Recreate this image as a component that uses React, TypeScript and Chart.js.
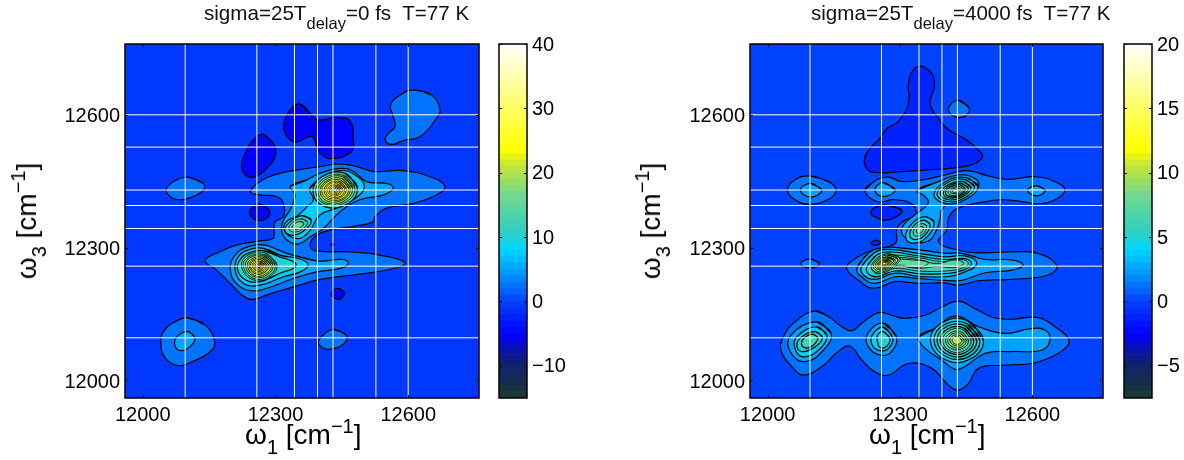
import React, { useEffect, useRef } from "react";
import { Chart, registerables } from "chart.js";

Chart.register(...registerables);

type Contour = [number, number[]];

const axisMin = 11960;
const axisMax = 12760;
const axisTicks = [12000, 12300, 12600];
const excitonEnergies = [12096, 12258, 12343, 12395, 12430, 12527, 12600];

const leftBarTicks = [-10, 0, 10, 20, 30, 40];
const rightBarTicks = [-5, 0, 5, 10, 15, 20];
const leftBarEdges = [-15, -14, -13, -12, -11, -10, -9, -8, -7, -6, -5, -4, -3, -2, -1, 0, 1, 2, 3, 4, 5, 6, 7, 8, 9, 10, 11, 12, 13, 14, 15, 16, 17, 18, 19, 20, 21, 22, 23, 24, 25, 26, 27, 28, 29, 30, 31, 32, 33, 34, 35, 36, 37, 38, 39, 40];
const rightBarEdges = [-7.5, -7, -6.5, -6, -5.5, -5, -4.5, -4, -3.5, -3, -2.5, -2, -1.5, -1, -0.5, 0, 0.5, 1, 1.5, 2, 2.5, 3, 3.5, 4, 4.5, 5, 5.5, 6, 6.5, 7, 7.5, 8, 8.5, 9, 9.5, 10, 10.5, 11, 11.5, 12, 12.5, 13, 13.5, 14, 14.5, 15, 15.5, 16, 16.5, 17, 17.5, 18, 18.5, 19, 19.5, 20];

const colorStops: [number, string][] = [
  [0, "#1a3a30"], [0.1, "#102070"], [0.18, "#0000ff"], [0.27, "#0040ff"], [0.36, "#00a0ff"],
  [0.42, "#00d8ff"], [0.47, "#30d0c0"], [0.57, "#70d890"], [0.66, "#c8e830"], [0.7, "#ffff00"], [1, "#ffffff"],
];

const leftBackground: Contour = [-0.8, [11960, 11960, 12760, 11960, 12760, 12760, 11960, 12760]];
const rightBackground: Contour = [0, [11960, 11960, 12760, 11960, 12760, 12760, 11960, 12760]];

const leftOuter: Contour[] = [
  [-5, [12356, 12624, 12382, 12600, 12397, 12588, 12438, 12594, 12469, 12585, 12476, 12543, 12472, 12517, 12431, 12501, 12405, 12509, 12393, 12528, 12382, 12551, 12344, 12539, 12322, 12558, 12320, 12585, 12337, 12615]],
  [-5, [12273, 12556, 12295, 12536, 12301, 12513, 12288, 12487, 12250, 12459, 12228, 12468, 12224, 12490, 12239, 12528, 12258, 12551]],
  [-5, [12265, 12398, 12286, 12385, 12280, 12366, 12258, 12362, 12243, 12374, 12246, 12389]],
  [-5, [12442, 12208, 12456, 12198, 12446, 12184, 12431, 12187, 12427, 12198]],
  [2.5, [12615, 12656, 12653, 12645, 12672, 12612, 12661, 12588, 12627, 12551, 12589, 12542, 12563, 12533, 12548, 12543, 12555, 12558, 12570, 12573, 12565, 12600, 12560, 12622, 12582, 12645]],
  [2.5, [12103, 12459, 12137, 12445, 12137, 12430, 12111, 12414, 12081, 12408, 12058, 12419, 12054, 12434, 12073, 12451]],
  [2.5, [12103, 12141, 12141, 12125, 12162, 12091, 12156, 12068, 12107, 12040, 12077, 12034, 12051, 12050, 12041, 12083, 12047, 12110, 12073, 12132]],
  [5, [12103, 12110, 12118, 12097, 12107, 12076, 12085, 12067, 12072, 12082, 12081, 12102]],
  [2.5, [12431, 12115, 12460, 12102, 12454, 12082, 12420, 12070, 12399, 12080, 12401, 12095]],
];

const leftRidge: Contour[] = [
  [2.5, [12243, 12426, 12258, 12445, 12303, 12466, 12348, 12475, 12401, 12483, 12446, 12489, 12484, 12483, 12521, 12472, 12589, 12474, 12649, 12460, 12683, 12439, 12668, 12421, 12612, 12400, 12551, 12389, 12525, 12370, 12521, 12358, 12476, 12348, 12431, 12341, 12393, 12328, 12378, 12306, 12390, 12293, 12469, 12290, 12536, 12283, 12593, 12266, 12559, 12251, 12476, 12238, 12401, 12228, 12341, 12211, 12288, 12196, 12250, 12183, 12228, 12190, 12198, 12219, 12167, 12249, 12141, 12270, 12167, 12287, 12213, 12306, 12265, 12315, 12295, 12321, 12297, 12339, 12299, 12358, 12318, 12370, 12318, 12400, 12303, 12415, 12265, 12419]],
  [-5, [12429, 12310, 12433, 12307, 12429, 12304, 12425, 12307]],
  [5, [12333, 12438, 12371, 12453, 12401, 12468, 12446, 12479, 12476, 12472, 12506, 12449, 12555, 12444, 12566, 12434, 12544, 12419, 12491, 12408, 12446, 12381, 12408, 12343, 12378, 12324, 12352, 12308, 12326, 12317, 12314, 12339, 12318, 12362, 12333, 12385, 12344, 12415, 12341, 12426]],
  [7.5, [12378, 12434, 12408, 12460, 12446, 12474, 12480, 12464, 12501, 12438, 12480, 12411, 12438, 12389, 12401, 12374, 12378, 12339, 12356, 12321, 12329, 12328, 12319, 12347, 12329, 12362, 12348, 12370, 12371, 12392, 12386, 12408]],
  [5, [12326, 12287, 12393, 12270, 12454, 12273, 12465, 12264, 12446, 12253, 12393, 12245, 12341, 12230, 12280, 12208, 12250, 12202, 12216, 12215, 12198, 12249, 12209, 12283, 12239, 12302, 12273, 12306, 12303, 12296]],
  [7.5, [12273, 12298, 12310, 12283, 12359, 12273, 12374, 12260, 12356, 12245, 12318, 12234, 12265, 12215, 12228, 12219, 12209, 12249, 12216, 12279, 12243, 12296]],
  [10, [12273, 12293, 12310, 12279, 12344, 12266, 12344, 12255, 12310, 12242, 12265, 12223, 12231, 12228, 12214, 12253, 12224, 12278, 12246, 12290]],
];

const leftPeakA: Contour[] = [
  [12, [12485, 12436, 12457, 12468, 12405, 12460, 12385, 12424, 12413, 12392, 12465, 12400]],
  [15, [12479, 12435, 12454, 12463, 12409, 12456, 12391, 12425, 12416, 12397, 12461, 12404]],
  [18, [12474, 12435, 12452, 12460, 12412, 12453, 12396, 12425, 12418, 12400, 12458, 12407]],
  [20, [12469, 12434, 12450, 12456, 12415, 12450, 12401, 12426, 12420, 12404, 12455, 12410]],
  [22, [12465, 12434, 12448, 12452, 12417, 12448, 12405, 12426, 12422, 12408, 12453, 12412]],
  [23, [12460, 12433, 12446, 12449, 12420, 12445, 12410, 12427, 12424, 12411, 12450, 12415]],
  [24, [12456, 12433, 12444, 12446, 12422, 12443, 12414, 12427, 12426, 12414, 12448, 12417]],
  [25, [12452, 12432, 12442, 12443, 12425, 12440, 12418, 12428, 12428, 12417, 12445, 12420]],
  [27, [12448, 12432, 12441, 12440, 12427, 12438, 12422, 12428, 12429, 12420, 12443, 12422]],
  [30, [12445, 12431, 12439, 12438, 12429, 12436, 12425, 12429, 12431, 12422, 12441, 12424]],
  [34, [12442, 12431, 12438, 12435, 12431, 12434, 12428, 12429, 12432, 12425, 12439, 12426]],
  [38, [12439, 12430, 12437, 12433, 12433, 12432, 12431, 12430, 12433, 12427, 12437, 12428]],
];

const leftPeakB: Contour[] = [
  [12.5, [12303, 12262, 12276, 12288, 12235, 12281, 12224, 12254, 12253, 12226, 12289, 12235]],
  [15, [12299, 12261, 12274, 12284, 12238, 12278, 12228, 12255, 12254, 12229, 12286, 12237]],
  [17.5, [12294, 12261, 12273, 12281, 12241, 12276, 12233, 12255, 12255, 12233, 12283, 12240]],
  [20, [12290, 12260, 12271, 12278, 12244, 12273, 12237, 12256, 12256, 12236, 12280, 12242]],
  [22, [12285, 12260, 12270, 12275, 12247, 12271, 12241, 12256, 12257, 12240, 12277, 12245]],
  [23, [12281, 12260, 12268, 12272, 12249, 12269, 12244, 12256, 12258, 12243, 12275, 12247]],
  [24, [12278, 12259, 12267, 12269, 12252, 12267, 12248, 12257, 12259, 12246, 12272, 12249]],
  [26, [12274, 12259, 12266, 12267, 12254, 12265, 12251, 12257, 12259, 12248, 12270, 12251]],
  [28, [12271, 12259, 12265, 12265, 12256, 12263, 12254, 12257, 12260, 12251, 12268, 12253]],
  [32, [12268, 12259, 12264, 12263, 12258, 12261, 12256, 12257, 12261, 12253, 12266, 12254]],
  [38, [12266, 12258, 12263, 12261, 12259, 12260, 12258, 12258, 12261, 12255, 12265, 12256]],
  [40, [12264, 12258, 12263, 12260, 12260, 12259, 12260, 12258, 12261, 12256, 12264, 12257]],
];

const leftPeakC: Contour[] = [
  [10, [12381, 12362, 12361, 12372, 12333, 12358, 12321, 12338, 12341, 12328, 12369, 12342]],
  [12.5, [12372, 12358, 12358, 12365, 12338, 12356, 12330, 12342, 12344, 12335, 12364, 12344]],
  [15, [12364, 12355, 12355, 12359, 12343, 12353, 12338, 12345, 12347, 12341, 12359, 12347]],
];

const rightUpper: Contour[] = [
  [-1.25, [12349, 12710, 12372, 12694, 12378, 12664, 12368, 12626, 12387, 12592, 12410, 12566, 12451, 12543, 12478, 12520, 12487, 12505, 12470, 12490, 12432, 12481, 12387, 12477, 12311, 12472, 12251, 12469, 12228, 12475, 12219, 12498, 12232, 12524, 12255, 12547, 12270, 12569, 12296, 12585, 12319, 12626, 12319, 12671, 12330, 12701]],
  [1.25, [12432, 12633, 12457, 12615, 12447, 12597, 12421, 12597, 12410, 12615]],
  [-1.25, [12270, 12396, 12304, 12385, 12293, 12370, 12266, 12362, 12240, 12371, 12234, 12381, 12247, 12392]],
  [-1.25, [12245, 12317, 12256, 12312, 12245, 12305, 12234, 12309]],
  [1.25, [12096, 12462, 12138, 12449, 12155, 12430, 12138, 12409, 12096, 12398, 12062, 12408, 12045, 12430, 12062, 12453]],
  [2.5, [12098, 12445, 12123, 12430, 12098, 12414, 12074, 12430]],
];

const rightRidge: Contour[] = [
  [1.25, [12221, 12430, 12247, 12453, 12274, 12459, 12304, 12449, 12357, 12454, 12402, 12464, 12451, 12474, 12500, 12462, 12545, 12454, 12606, 12460, 12651, 12449, 12674, 12430, 12651, 12408, 12613, 12399, 12576, 12404, 12530, 12408, 12485, 12402, 12432, 12389, 12411, 12370, 12406, 12339, 12387, 12313, 12432, 12294, 12478, 12288, 12553, 12290, 12613, 12287, 12655, 12260, 12636, 12238, 12553, 12228, 12478, 12225, 12432, 12215, 12402, 12220, 12342, 12219, 12289, 12223, 12240, 12208, 12206, 12226, 12179, 12253, 12194, 12272, 12236, 12294, 12289, 12309, 12293, 12343, 12311, 12362, 12334, 12370, 12330, 12396, 12289, 12408, 12247, 12404]],
  [2.5, [12262, 12447, 12289, 12430, 12262, 12415, 12243, 12430]],
  [2.5, [12338, 12429, 12387, 12449, 12432, 12464, 12470, 12456, 12478, 12438, 12462, 12419, 12421, 12408, 12394, 12385, 12391, 12366, 12379, 12332, 12360, 12313, 12327, 12315, 12304, 12332, 12310, 12354, 12334, 12374, 12364, 12400, 12357, 12415]],
  [2.5, [12610, 12440, 12629, 12429, 12610, 12417, 12589, 12429]],
  [2.5, [12202, 12253, 12228, 12287, 12266, 12300, 12311, 12298, 12357, 12293, 12402, 12287, 12440, 12287, 12493, 12273, 12553, 12272, 12579, 12260, 12553, 12249, 12493, 12243, 12440, 12226, 12402, 12226, 12342, 12230, 12289, 12234, 12243, 12219, 12213, 12234]],
  [3.75, [12213, 12257, 12240, 12287, 12274, 12296, 12342, 12287, 12402, 12279, 12447, 12281, 12474, 12264, 12447, 12245, 12402, 12234, 12342, 12235, 12289, 12242, 12243, 12228, 12217, 12238]],
  [5, [12225, 12257, 12247, 12283, 12281, 12290, 12342, 12281, 12402, 12273, 12447, 12275, 12462, 12264, 12444, 12249, 12402, 12241, 12342, 12241, 12289, 12247, 12247, 12234, 12228, 12241]],
  [6.25, [12236, 12257, 12255, 12281, 12289, 12283, 12342, 12277, 12402, 12268, 12440, 12273, 12455, 12264, 12440, 12253, 12402, 12247, 12342, 12247, 12289, 12253, 12251, 12241, 12240, 12245]],
  [7, [12243, 12257, 12262, 12278, 12293, 12278, 12342, 12273, 12383, 12264, 12425, 12272, 12444, 12264, 12425, 12255, 12383, 12257, 12342, 12253, 12293, 12258, 12259, 12249]],
  [7.6, [12259, 12263, 12281, 12273, 12327, 12272, 12364, 12266, 12342, 12255, 12296, 12260, 12266, 12253]],
];

const rightPeakSharp: Contour[] = [
  [8, [12300, 12276, 12272, 12286, 12244, 12272, 12236, 12252, 12258, 12242, 12284, 12256]],
  [8.5, [12295, 12274, 12271, 12283, 12247, 12271, 12240, 12254, 12259, 12245, 12281, 12257]],
  [9, [12289, 12272, 12270, 12279, 12250, 12270, 12244, 12256, 12260, 12249, 12278, 12258]],
  [9.5, [12285, 12271, 12269, 12277, 12253, 12269, 12248, 12257, 12261, 12251, 12275, 12259]],
  [10, [12280, 12269, 12268, 12274, 12255, 12268, 12251, 12259, 12261, 12254, 12273, 12260]],
  [10.75, [12276, 12268, 12267, 12271, 12257, 12267, 12254, 12260, 12262, 12257, 12271, 12261]],
  [11.5, [12273, 12267, 12266, 12269, 12259, 12266, 12257, 12261, 12263, 12259, 12269, 12262]],
  [12.5, [12269, 12266, 12265, 12267, 12261, 12265, 12260, 12262, 12263, 12261, 12267, 12263]],
];

const rightPeakA: Contour[] = [
  [3.75, [12477, 12438, 12450, 12458, 12405, 12450, 12377, 12420, 12403, 12400, 12447, 12408]],
  [4.5, [12469, 12437, 12446, 12454, 12408, 12447, 12384, 12421, 12406, 12404, 12444, 12411]],
  [5, [12461, 12435, 12443, 12449, 12411, 12443, 12391, 12422, 12410, 12408, 12440, 12414]],
  [5.5, [12455, 12434, 12439, 12445, 12414, 12441, 12398, 12423, 12412, 12412, 12438, 12417]],
  [6, [12448, 12432, 12436, 12442, 12416, 12438, 12403, 12424, 12415, 12415, 12435, 12419]],
  [6.5, [12443, 12431, 12434, 12438, 12418, 12435, 12409, 12425, 12418, 12418, 12432, 12421]],
  [7, [12437, 12430, 12431, 12435, 12420, 12433, 12414, 12426, 12420, 12422, 12430, 12423]],
  [8, [12432, 12429, 12428, 12432, 12422, 12431, 12419, 12427, 12422, 12424, 12428, 12425]],
];

const rightPeakB: Contour[] = [
  [3.75, [12377, 12358, 12357, 12370, 12327, 12354, 12313, 12322, 12333, 12310, 12363, 12326]],
  [5, [12368, 12353, 12354, 12362, 12332, 12350, 12322, 12327, 12336, 12318, 12358, 12330]],
  [6.25, [12360, 12349, 12351, 12354, 12336, 12347, 12330, 12331, 12339, 12326, 12354, 12333]],
  [7, [12353, 12345, 12348, 12348, 12340, 12344, 12337, 12335, 12342, 12332, 12350, 12336]],
];

const rightSmall: Contour[] = [
  [1.25, [12096, 12274, 12118, 12264, 12096, 12254, 12075, 12264]],
];

const rightLowerBand: Contour[] = [
  [1.25, [12108, 12157, 12138, 12144, 12168, 12121, 12191, 12112, 12213, 12129, 12251, 12153, 12281, 12147, 12311, 12140, 12357, 12147, 12394, 12165, 12432, 12179, 12470, 12162, 12511, 12142, 12553, 12138, 12610, 12142, 12651, 12121, 12683, 12091, 12674, 12072, 12644, 12053, 12598, 12038, 12530, 12034, 12478, 12027, 12455, 11993, 12432, 11978, 12410, 11989, 12372, 12027, 12319, 12038, 12274, 12012, 12243, 12019, 12213, 12046, 12187, 12077, 12160, 12065, 12123, 12031, 12081, 12012, 12055, 12031, 12031, 12065, 12034, 12095, 12062, 12132]],
  [2.5, [12342, 12098, 12379, 12117, 12425, 12145, 12478, 12121, 12538, 12106, 12598, 12117, 12629, 12113, 12640, 12091, 12621, 12068, 12553, 12065, 12493, 12061, 12447, 12031, 12425, 12025, 12394, 12046, 12357, 12072]],
  [2.5, [12111, 12132, 12144, 12106, 12130, 12072, 12085, 12042, 12051, 12065, 12053, 12102]],
  [3.75, [12111, 12121, 12134, 12102, 12119, 12072, 12081, 12053, 12062, 12072, 12066, 12098]],
  [5, [12108, 12110, 12124, 12097, 12108, 12076, 12077, 12065, 12066, 12080, 12077, 12098]],
  [6, [12104, 12104, 12114, 12095, 12100, 12077, 12083, 12074, 12077, 12087, 12089, 12100]],
  [2.5, [12262, 12129, 12292, 12098, 12281, 12065, 12255, 12057, 12228, 12076, 12227, 12106]],
  [3.75, [12262, 12120, 12283, 12098, 12274, 12072, 12255, 12067, 12237, 12080, 12237, 12102]],
  [5, [12262, 12110, 12277, 12095, 12270, 12077, 12255, 12074, 12249, 12087, 12249, 12102]],
];

const rightPeakLower: Contour[] = [
  [3.75, [12489, 12090, 12454, 12134, 12399, 12132, 12369, 12090, 12404, 12046, 12459, 12048]],
  [4.5, [12481, 12090, 12451, 12128, 12403, 12127, 12377, 12090, 12407, 12052, 12455, 12053]],
  [5, [12474, 12090, 12448, 12123, 12407, 12122, 12384, 12090, 12410, 12057, 12451, 12058]],
  [5.75, [12467, 12090, 12445, 12118, 12410, 12117, 12391, 12090, 12413, 12062, 12448, 12063]],
  [6.5, [12461, 12090, 12443, 12114, 12413, 12113, 12397, 12090, 12415, 12066, 12445, 12067]],
  [7.25, [12455, 12090, 12440, 12109, 12416, 12108, 12403, 12090, 12418, 12071, 12442, 12072]],
  [8, [12450, 12090, 12438, 12105, 12419, 12105, 12408, 12090, 12420, 12075, 12439, 12075]],
  [9, [12445, 12090, 12435, 12101, 12421, 12101, 12413, 12090, 12423, 12079, 12437, 12079]],
  [10, [12440, 12090, 12433, 12098, 12424, 12098, 12418, 12090, 12425, 12082, 12434, 12082]],
];

const leftContours: Contour[] = [leftBackground, ...leftOuter, ...leftRidge, ...leftPeakC, ...leftPeakA, ...leftPeakB];
const rightContours: Contour[] = [rightBackground, ...rightUpper, ...rightSmall, ...rightLowerBand, ...rightPeakLower, ...rightRidge, ...rightPeakB, ...rightPeakA, ...rightPeakSharp];

function mapColor(f: number): string {
  const t = Math.min(1, Math.max(0, f));
  for (let i = 1; i < colorStops.length; i++) {
    if (t <= colorStops[i][0]) {
      const [a, ca] = colorStops[i - 1];
      const [b, cb] = colorStops[i];
      const k = (t - a) / (b - a);
      const ch = (c: string, p: number) => parseInt(c.slice(p, p + 2), 16);
      const mix = (p: number) => Math.round(ch(ca, p) + (ch(cb, p) - ch(ca, p)) * k);
      return `rgb(${mix(1)},${mix(3)},${mix(5)})`;
    }
  }
  return "#ffffff";
}

const frameAndTicks = {
  id: "frameAndTicks",
  afterDraw(chart: any) {
    const { ctx, chartArea: a, scales } = chart;
    ctx.save();
    ctx.strokeStyle = "#000";
    ctx.lineWidth = 1;
    ctx.beginPath();
    for (const t of scales.y.ticks) {
      const p = Math.round(scales.y.getPixelForValue(t.value)) + 0.5;
      ctx.moveTo(a.left, p); ctx.lineTo(a.left + 3, p);
      ctx.moveTo(a.right, p); ctx.lineTo(a.right - 3, p);
    }
    if (scales.x.type === "linear") {
      for (const t of scales.x.ticks) {
        const p = Math.round(scales.x.getPixelForValue(t.value)) + 0.5;
        ctx.moveTo(p, a.top); ctx.lineTo(p, a.top + 3);
        ctx.moveTo(p, a.bottom); ctx.lineTo(p, a.bottom - 3);
      }
    }
    ctx.stroke();
    ctx.lineWidth = 1.5;
    ctx.strokeRect(a.left, a.top, a.right - a.left, a.bottom - a.top);
    ctx.restore();
  },
};

const labelFont = { family: "'Liberation Sans', Arial, sans-serif", size: 20 };

function flatToPoints(flat: number[]) {
  const pts: { x: number; y: number }[] = [];
  for (let i = 0; i < flat.length; i += 2) pts.push({ x: flat[i], y: flat[i + 1] });
  return pts;
}

function plotChart(canvas: HTMLCanvasElement, contours: Contour[], lo: number, hi: number, pad: any) {
  const filled = contours.map(([level, flat], i) => {
    const pts = flatToPoints(flat);
    const isBg = i === 0;
    const closed = isBg ? [...pts, pts[0]] : [...pts, pts[0], pts[1]];
    const f = (level - lo) / (hi - lo);
    return {
      data: closed,
      fill: "shape",
      backgroundColor: mapColor(f),
      borderColor: isBg ? "rgba(0,0,0,0)" : "#000",
      borderWidth: isBg ? 0 : f >= 0.5 ? 0.8 : 1.2,
      pointRadius: 0,
      tension: isBg ? 0 : 0.45,
    };
  });
  const white = (pairs: { x: number; y: number }[]) => ({
    data: pairs,
    fill: false,
    borderColor: "#fff",
    borderWidth: 1,
    pointRadius: 0,
    tension: 0,
  });
  const lines = excitonEnergies.flatMap((e) => [
    white([{ x: e, y: axisMin }, { x: e, y: axisMax }]),
    white([{ x: axisMin, y: e }, { x: axisMax, y: e }]),
  ]);
  return new Chart(canvas, {
    type: "line",
    data: { datasets: [...lines, ...filled.reverse()] as any },
    options: {
      animation: false,
      responsive: false,
      events: [],
      layout: { padding: pad },
      plugins: { legend: { display: false }, tooltip: { enabled: false } },
      scales: {
        x: {
          type: "linear",
          min: axisMin,
          max: axisMax,
          grid: { display: false, drawTicks: false },
          border: { display: false },
          afterBuildTicks: (s: any) => { s.ticks = axisTicks.map((value) => ({ value })); },
          afterFit: (s: any) => { s.height = 50; },
          ticks: { maxRotation: 0, padding: 5, color: "#000", font: labelFont, callback: (v: any) => String(v) },
        },
        y: {
          type: "linear",
          min: axisMin,
          max: axisMax,
          grid: { display: false, drawTicks: false },
          border: { display: false },
          afterBuildTicks: (s: any) => { s.ticks = axisTicks.map((value) => ({ value })); },
          afterFit: (s: any) => { s.width = 100; },
          ticks: { padding: 5, labelOffset: 2, color: "#000", font: labelFont, callback: (v: any) => String(v) },
        },
      },
    } as any,
    plugins: [frameAndTicks],
  });
}

function barChart(canvas: HTMLCanvasElement, edges: number[], ticks: number[], pad: any, axisWidth: number) {
  const lo = edges[0];
  const hi = edges[edges.length - 1];
  const datasets = edges.slice(0, -1).map((e, i) => ({
    data: [[e, edges[i + 1]]],
    backgroundColor: mapColor((e + (edges[i + 1] - e) / 2 - lo) / (hi - lo)),
    borderWidth: 0,
    grouped: false,
    barPercentage: 1,
    categoryPercentage: 1,
  }));
  return new Chart(canvas, {
    type: "bar",
    data: { labels: ["level"], datasets: datasets as any },
    options: {
      animation: false,
      responsive: false,
      events: [],
      layout: { padding: pad },
      plugins: { legend: { display: false }, tooltip: { enabled: false } },
      scales: {
        x: { type: "category", display: false },
        y: {
          type: "linear",
          position: "right",
          min: lo,
          max: hi,
          grid: { display: false, drawTicks: false },
          border: { display: false },
          afterBuildTicks: (s: any) => { s.ticks = ticks.map((value) => ({ value })); },
          afterFit: (s: any) => { s.width = axisWidth; },
          ticks: { padding: 5, labelOffset: 1, color: "#000", font: labelFont, callback: (v: any) => String(v).replace("-", "\u2212") },
        },
      },
    } as any,
    plugins: [frameAndTicks],
  });
}

const textFont = "'Liberation Sans', Arial, sans-serif";

function Title({ left, delay }: { left: number; delay: string }) {
  return (
    <div style={{ position: "absolute", left, top: 0, fontFamily: textFont, fontSize: 20.6, lineHeight: "26px", whiteSpace: "pre", color: "#111" }}>
      sigma=25T<span style={{ position: "relative", top: 9, fontSize: 16.5 }}>delay</span>={delay} fs  T=77 K
    </div>
  );
}

function XLabel({ left, top }: { left: number; top: number }) {
  return (
    <div style={{ position: "absolute", left, top, fontFamily: textFont, fontSize: 28, lineHeight: "34px", whiteSpace: "pre", color: "#000" }}>
      {"\u03c9"}<span style={{ position: "relative", top: 10, fontSize: 20 }}>1</span> [cm<span style={{ position: "relative", top: -11, fontSize: 20 }}>{"\u22121"}</span>]
    </div>
  );
}

function YLabel({ left, top }: { left: number; top: number }) {
  return (
    <div style={{ position: "absolute", left, top, width: 0, height: 0 }}>
      <div style={{ position: "absolute", left: 0, top: 0, transform: "translate(-50%,-50%) rotate(-90deg)", fontFamily: textFont, fontSize: 28, lineHeight: "34px", whiteSpace: "pre", color: "#000" }}>
        {"\u03c9"}<span style={{ position: "relative", top: 10, fontSize: 20 }}>3</span> [cm<span style={{ position: "relative", top: -11, fontSize: 20 }}>{"\u22121"}</span>]
      </div>
    </div>
  );
}

export default function App() {
  const a = useRef<HTMLCanvasElement>(null);
  const b = useRef<HTMLCanvasElement>(null);
  const c = useRef<HTMLCanvasElement>(null);
  const d = useRef<HTMLCanvasElement>(null);

  useEffect(() => {
    const charts = [
      plotChart(a.current!, leftContours, -15, 40, { left: 25, right: 11, top: 44, bottom: 12 }),
      barChart(b.current!, leftBarEdges, leftBarTicks, { left: 9, right: 8, top: 44, bottom: 62 }, 45),
      plotChart(c.current!, rightContours, -7.5, 20, { left: 30, right: 12, top: 44, bottom: 12 }),
      barChart(d.current!, rightBarEdges, rightBarTicks, { left: 9, right: 0, top: 44, bottom: 62 }, 32),
    ];
    return () => charts.forEach((ch) => ch.destroy());
  }, []);

  const pos = (left: number): React.CSSProperties => ({ position: "absolute", left, top: 0 });

  return (
    <div style={{ position: "fixed", left: 0, top: 0, width: 1184, height: 460, background: "#fff", overflow: "hidden" }}>
      <canvas ref={a} width={490} height={460} style={pos(0)} />
      <canvas ref={b} width={90} height={460} style={pos(490)} />
      <canvas ref={c} width={495} height={460} style={pos(620)} />
      <canvas ref={d} width={69} height={460} style={pos(1115)} />
      <Title left={204} delay="0" />
      <Title left={811} delay="4000" />
      <XLabel left={245} top={418} />
      <XLabel left={869} top={418} />
      <YLabel left={28} top={221} />
      <YLabel left={652} top={221} />
    </div>
  );
}
